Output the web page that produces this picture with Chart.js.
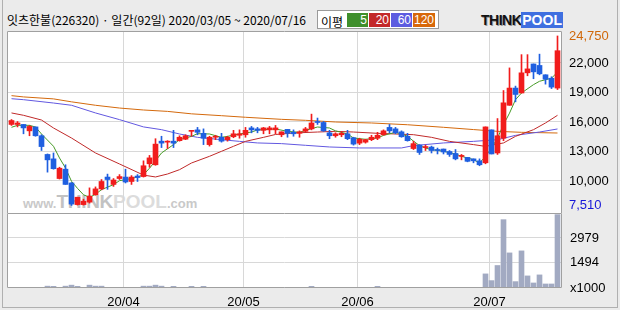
<!DOCTYPE html>
<html>
<head>
<meta charset="utf-8">
<script src="https://cdn.jsdelivr.net/npm/chart.js@4.4.0/dist/chart.umd.min.js"></script>
<style>
body { margin: 0; background: #ebebeb; }
#wrap { position: relative; width: 620px; height: 310px; background: #ebebeb; overflow: hidden; }
#frame { position: absolute; left: 2px; top: -2px; width: 614px; height: 308px; border: 1px solid #b0b0b0; }
#title { position: absolute; left: 7px; top: 11px; font: 12px "Noto Sans CJK KR", sans-serif; color: #000; line-height: 18px; white-space: nowrap; }
#legend { position: absolute; left: 317px; top: 10px; width: 122px; height: 19px; background: #fff; border: 1px solid #9a9a9a; box-sizing: border-box; }
#legend span { position: absolute; top: 2px; height: 14px; line-height: 14px; font: 12px "Liberation Sans", sans-serif; color: #fff; text-align: right; padding-right: 1px; box-sizing: border-box; }
#legend .lbl { left: 3px; width: 24px; color: #000; text-align: left; font-family: "Noto Sans CJK KR", sans-serif; }
#logo { position: absolute; left: 481px; top: 13px; height: 15px; font: bold 14px "Liberation Sans", sans-serif; line-height: 15px; }
#logo .think { color: #111; text-shadow: 1px 1px 0 #999; letter-spacing: -0.5px; }
#logo .pool { color: #fff; background: #3f6fe0; padding: 0 1px; }
#plotBg { position: absolute; left: 7px; top: 31px; width: 555px; height: 257px; background: #fff; }
#watermark { position: absolute; left: 23px; top: 191px; font: bold 13px "Liberation Sans", sans-serif; color: #c9c9c9; white-space: nowrap; }
#watermark b { font-size: 19px; color: #c2c2c2; letter-spacing: -0.3px; }
#watermark i { font-style: normal; font-size: 19px; color: #dcdcdc; }
canvas { position: absolute; }
#priceChart { left: 7px; top: 31px; }
#volChart { left: 7px; top: 213px; }
</style>
</head>
<body>
<div id="wrap">
  <div id="frame"></div>
  <div id="title">잇츠한불(226320) · 일간(92일) 2020/03/05 ~ 2020/07/16</div>
  <div id="legend">
    <span class="lbl">이평</span>
    <span style="left:29px;width:21px;background:#3f8f2c">5</span>
    <span style="left:51px;width:21px;background:#c3282a">20</span>
    <span style="left:73px;width:21px;background:#5c5ce0">60</span>
    <span style="left:95px;width:22px;background:#d8680a">120</span>
  </div>
  <div id="logo"><span class="think">THINK</span><span class="pool">POOL</span></div>
  <div id="plotBg"></div>
  <div id="watermark">www.<b>THINK</b><i>POOL</i>.com</div>
  <canvas id="priceChart" width="613" height="182"></canvas>
  <canvas id="volChart" width="613" height="97"></canvas>
</div>
<script>
// daily candles, 2020/03/05 .. 2020/07/16 (92 trading days)
var opens = [15750,15750,15750,15100,15500,14600,12700,12250,10250,11200,
    9800,7600,7600,7850,8600,9200,10400,9650,10250,10400,
    9950,10500,10450,11750,11650,14050,13950,14050,14100,14250,
    15050,15200,14850,13700,14450,14450,14200,14500,14650,14700,
    15400,15300,15150,15200,15200,14700,15250,14950,14850,15050,
    15300,16050,15950,14900,14600,14700,14800,14400,13850,13950,
    14200,14350,14700,15450,15300,15000,14550,13300,13650,13400,
    13450,13200,13250,13000,12800,12500,12400,12250,12050,11850,
    15200,12850,14350,17700,19450,18950,21000,21900,21750,20800,
    20450,19450];
var highs = [16250,16050,15750,15650,15500,14700,12750,12850,11400,11650,
    9850,8350,8150,9300,9400,10150,10700,10250,10650,11200,
    10550,10650,12050,12600,14300,14550,14100,15150,14600,14700,
    15150,15450,15300,14550,14650,14850,14550,15150,15200,15450,
    15550,15450,15450,15550,15650,15000,15250,15200,15100,15450,
    16800,16400,16050,15150,14900,15000,15150,14450,14350,14250,
    14650,14950,15200,15750,15450,15100,14850,14050,13700,13650,
    13550,13350,13250,13100,13200,12700,12400,12250,12250,15500,
    15200,16350,19200,21500,19650,22850,22850,21900,22900,20800,
    20600,24750];
var lows = [15650,15500,14800,14600,14550,13100,10900,11200,10200,9650,
    7510,7550,7550,7750,8550,9100,9150,9450,10150,9800,
    9650,9950,10400,11400,11600,13400,13300,13400,14050,14200,
    14550,14700,13700,13550,14200,13950,14050,14400,14350,14450,
    14900,14900,14800,14800,14800,14500,14450,14550,14450,15000,
    15200,15750,15050,14300,14450,14500,14200,13650,13700,13850,
    14100,14200,14650,14900,14800,14450,14050,13200,12700,13100,
    12850,12750,12750,12500,12150,12150,11950,11850,11550,11750,
    12750,12700,14100,17700,18050,18950,20700,20400,20800,19850,
    19400,19300];
var closes = [16150,15900,15400,15550,14600,13500,12150,11250,11300,9650,
    7650,8350,7950,8450,9200,9950,10150,10100,10450,9900,
    10400,10350,11550,12350,13750,13850,14050,13850,14450,14600,
    15150,14950,14350,14450,14550,14050,14450,14800,14800,15150,
    15200,15150,15400,15400,15400,15000,14850,14800,15000,15300,
    15900,15950,15100,14600,14800,14850,14300,13750,14250,14200,
    14450,14650,15100,15100,14900,14500,14100,13800,12900,13500,
    13100,13100,12950,12700,12250,12600,12000,12050,11650,15500,
    12750,14600,17950,19450,18800,21000,21400,21100,20900,20350,
    19550,23250];
// volume, x1000 shares
var volumes = [35,35,35,35,35,35,110,100,40,110,
    170,100,40,170,110,110,35,35,35,35,
    35,35,110,110,170,110,35,100,35,35,
    100,35,100,35,35,35,35,35,35,35,
    35,35,35,35,35,35,35,35,35,35,
    100,35,35,35,35,35,35,35,35,35,
    35,100,35,35,35,35,35,35,35,35,
    35,35,35,35,35,35,35,35,35,840,
    440,1340,4070,2090,380,2210,720,300,780,240,
    240,4370];

// moving averages: [day index, value]
var ma5 = [[0,15460],[1,15660],[3,15660],[4,15490],[5,14780],[7,13530],[8,12340],[9,11320],[10,9970],
    [11,9250],[12,8600],[13,8340],[14,8650],[15,9120],[17,9630],[18,10030],[20,10250],[21,10400],
    [22,10640],[23,11300],[24,12050],[25,12850],[27,13700],[28,14200],[30,14540],[31,14810],[33,14780],
    [35,14440],[36,14540],[38,14780],[40,14980],[41,15190],[44,15290],[46,15050],[48,14950],[49,15150],
    [51,15490],[53,15390],[54,15100],[56,14780],[57,14370],[59,14240],[61,14370],[62,14640],[64,14950],
    [65,14780],[66,14550],[67,14050],[68,13600],[69,13350],[70,13190],[72,13020],[74,12750],[75,12510],
    [77,12170],[78,11830],[79,12500],[80,13350],[81,14370],[82,15730],[83,16900],[84,18270],[85,18950],
    [87,19800],[88,20140],[89,20300],[90,20450],[91,21080]];
var ma20 = [[0,16920],[2,16680],[5,16200],[7,15390],[10,14370],[14,12850],[18,11730],[22,10600],
    [24,10410],[26,10710],[28,11150],[30,11830],[33,12510],[35,13020],[37,13530],[39,14030],[42,14440],
    [44,14730],[47,14880],[51,14980],[54,15050],[57,14980],[61,14850],[64,14780],[67,14710],[70,14440],
    [73,14030],[77,13700],[79,13520],[82,13870],[84,14540],[87,15220],[89,15900],[91,16680]];
var ma60 = [[0,18370],[2,18270],[7,17930],[10,17700],[14,16920],[18,16240],[22,15500],[25,15220],
    [28,14780],[31,14440],[35,14200],[38,14030],[41,13870],[45,13800],[49,13630],[53,13460],[58,13360],
    [65,13360],[67,13600],[72,13870],[77,14030],[81,14200],[84,14640],[88,14980],[91,15290]];
var ma120 = [[0,18680],[2,18550],[7,18350],[10,18050],[14,17700],[18,17420],[22,17220],[26,17080],
    [30,16830],[35,16640],[39,16480],[45,16270],[49,16170],[54,16000],[60,15900],[66,15720],[72,15460],
    [77,15230],[81,15050],[85,14950],[91,14880]];

// axis ticks
var monthLabels = ['20/04', '20/05', '20/06', '20/07'];
var monthStartIdx = [19, 39, 58, 80];
var lowPrice = 7510;
var highPrice = 24750;
var priceTicks = [7510, 10000, 13000, 16000, 19000, 22000, 24750];
var volumeTicks = [0, 1494, 2979];

Chart.defaults.font.family = '"Liberation Sans", sans-serif';
Chart.defaults.font.size = 13;
Chart.defaults.color = '#000';

var upColor = '#f11c1c';
var downColor = '#1f5fe0';
var candleColors = opens.map((o, i) => closes[i] >= o ? upColor : downColor);

function toPoints(arr) {
    return arr.map(p => ({ x: p[0], y: p[1] }));
}

// draws the plot frame; bottom side optional
function framePlugin(withBottom) {
    return {
        id: 'frame',
        afterDraw(chart) {
            const a = chart.chartArea;
            const c = chart.ctx;
            c.save();
            c.strokeStyle = '#a0a0a0';
            c.lineWidth = 1;
            c.beginPath();
            c.moveTo(a.left + 0.5, withBottom ? a.bottom - 0.5 : a.bottom);
            c.lineTo(a.left + 0.5, a.top + 0.5);
            c.lineTo(a.right - 0.5, a.top + 0.5);
            c.lineTo(a.right - 0.5, withBottom ? a.bottom - 0.5 : a.bottom);
            if (withBottom) c.lineTo(a.left + 0.5, a.bottom - 0.5);
            c.stroke();
            c.restore();
        }
    };
}

function xScale(showLabels) {
    return {
        type: 'linear',
        min: -0.75,
        max: 91.75,
        offset: false,
        grid: { color: '#d8d8d8', drawTicks: false, offset: false },
        border: { display: false },
        afterBuildTicks: function (scale) {
            scale.ticks = monthStartIdx.map(i => ({ value: i - 0.33 }));
        },
        ticks: {
            display: showLabels,
            autoSkip: false,
            maxRotation: 0,
            padding: 7,
            callback: function (value, index) { return monthLabels[index]; }
        },
        afterFit: function (scale) {
            scale.height = showLabels ? 22 : 0;
            scale.paddingLeft = 0;
            scale.paddingRight = 0;
        }
    };
}

function fixRightAxis(scale) {
    scale.width = 58;
    scale.paddingTop = 0;
    scale.paddingBottom = 0;
}

var priceChart = new Chart(document.getElementById('priceChart').getContext('2d'), {
    type: 'bar',
    data: {
        datasets: [
            {
                type: 'bar',
                data: opens.map((o, i) => ({ x: i, y: [o, closes[i]] })),
                backgroundColor: candleColors,
                barThickness: 5,
                minBarLength: 1,
                grouped: false,
                order: 0
            },
            {
                type: 'bar',
                data: lows.map((l, i) => ({ x: i, y: [l, highs[i]] })),
                backgroundColor: candleColors,
                barThickness: 1,
                grouped: false,
                order: 1
            },
            { type: 'line', data: toPoints(ma5), borderColor: '#469a26', borderWidth: 1, pointRadius: 0, order: 2 },
            { type: 'line', data: toPoints(ma20), borderColor: '#c02a2a', borderWidth: 1, pointRadius: 0, order: 3 },
            { type: 'line', data: toPoints(ma60), borderColor: '#6258e0', borderWidth: 1, pointRadius: 0, order: 4 },
            { type: 'line', data: toPoints(ma120), borderColor: '#d4690c', borderWidth: 1, pointRadius: 0, order: 5 }
        ]
    },
    options: {
        responsive: false,
        animation: false,
        layout: { padding: 0 },
        plugins: { legend: { display: false }, tooltip: { enabled: false } },
        scales: {
            x: xScale(false),
            y: {
                position: 'right',
                min: 6745,
                max: 25254,
                afterBuildTicks: function (scale) {
                    scale.ticks = priceTicks.map(v => ({ value: v }));
                },
                afterFit: fixRightAxis,
                border: { display: false },
                grid: {
                    drawTicks: false,
                    color: ctx => (ctx.tick && (ctx.tick.value === lowPrice || ctx.tick.value === highPrice)) ? 'rgba(0,0,0,0)' : '#d8d8d8'
                },
                ticks: {
                    padding: 7,
                    color: ctx => ctx.tick.value === highPrice ? '#d0680a' : (ctx.tick.value === lowPrice ? '#1616d8' : '#000'),
                    callback: v => v.toLocaleString('en-US')
                }
            }
        }
    },
    plugins: [framePlugin(false)]
});

var volChart = new Chart(document.getElementById('volChart').getContext('2d'), {
    type: 'bar',
    data: {
        datasets: [{
            data: volumes.map((v, i) => ({ x: i, y: v })),
            backgroundColor: '#a2aac2',
            barThickness: 5,
            grouped: false
        }]
    },
    options: {
        responsive: false,
        animation: false,
        layout: { padding: 0 },
        plugins: { legend: { display: false }, tooltip: { enabled: false } },
        scales: {
            x: xScale(true),
            y: {
                position: 'right',
                min: 0,
                max: 4467,
                afterBuildTicks: function (scale) {
                    scale.ticks = volumeTicks.map(v => ({ value: v }));
                },
                afterFit: fixRightAxis,
                border: { display: false },
                grid: {
                    drawTicks: false,
                    color: ctx => (ctx.tick && ctx.tick.value === 0) ? 'rgba(0,0,0,0)' : '#d8d8d8'
                },
                ticks: {
                    padding: 8,
                    callback: v => v === 0 ? 'x1000' : String(v)
                }
            }
        }
    },
    plugins: [framePlugin(true)]
});
</script>
</body>
</html>
